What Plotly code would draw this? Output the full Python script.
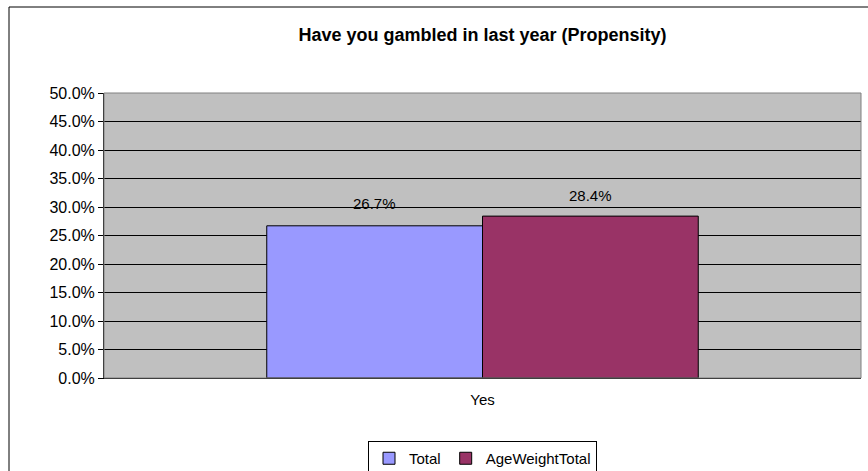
import plotly.graph_objects as go

categories = ["Yes"]
total_vals = [0.267]
ageweight_vals = [0.284]
series_names = ["Total", "AgeWeightTotal"]
title_text = "Have you gambled in last year (Propensity)"
ytick_vals = [i * 0.05 for i in range(11)]

FONT = "Liberation Sans, Arial, sans-serif"
PLOT_L, PLOT_R, PLOT_T, PLOT_B = 104, 861, 93, 378
PW = PLOT_R - PLOT_L
PH = PLOT_B - PLOT_T

fig = go.Figure()
fig.add_trace(go.Bar(
    x=categories, y=total_vals, name=series_names[0],
    marker=dict(color="#9999FF", line=dict(color="black", width=1)),
))
fig.add_trace(go.Bar(
    x=categories, y=ageweight_vals, name=series_names[1],
    marker=dict(color="#993366", line=dict(color="black", width=1)),
))

annotations = []
bar_half = 108
for vals, shift, ys in ((total_vals, -bar_half, 22), (ageweight_vals, bar_half, 21)):
    for c, v in zip(categories, vals):
        annotations.append(dict(x=c, y=v, xref="x", yref="y", text=f"{v*100:.1f}%",
                                showarrow=False, xshift=shift, yshift=ys,
                                font=dict(size=15, family=FONT, color="black")))

fig.update_layout(
    width=868, height=471,
    margin=dict(l=PLOT_L, r=868 - PLOT_R, t=PLOT_T, b=471 - PLOT_B, autoexpand=False),
    paper_bgcolor="white", plot_bgcolor="#C0C0C0",
    font=dict(family=FONT, size=15, color="black"),
    barmode="group", bargap=0.43, bargroupgap=0,
    title=dict(text=f"<b>{title_text}</b>", x=0.5, xref="paper", xanchor="center",
               y=1 - 35 / 471, yanchor="middle", yref="container",
               font=dict(size=18, family=FONT, color="black")),
    showlegend=True,
    legend=dict(orientation="h", x=0.5, xanchor="center", xref="paper",
                y=(471 - 441) / 471, yanchor="top", yref="container",
                bordercolor="black", borderwidth=1, bgcolor="white",
                font=dict(size=15, family=FONT), traceorder="normal",
                itemwidth=30, tracegroupgap=0),
    yaxis=dict(range=[0, 0.5], tickvals=ytick_vals, tickformat=".1%",
               showgrid=True, gridcolor="black", gridwidth=1,
               showline=True, linecolor="black", linewidth=1,
               ticks="outside", ticklen=5, tickcolor="black",
               zeroline=False, tickfont=dict(size=16), automargin=False),
    xaxis=dict(showline=True, linecolor="black", linewidth=1, ticks="",
               tickfont=dict(size=15), ticklabelstandoff=8, automargin=False),
    annotations=annotations,
    shapes=[
        dict(type="rect", xref="paper", yref="paper", x0=0, x1=1, y0=0, y1=1,
             line=dict(color="#808080", width=1), layer="above"),
        dict(type="rect", xref="paper", yref="paper",
             x0=(9 - PLOT_L) / PW, x1=1.05, y0=-0.4, y1=(PLOT_B - 7) / PH,
             line=dict(color="black", width=1), layer="below"),
    ],
)

fig.write_html("out.html", config={"displayModeBar": False},
               post_script="document.body.style.margin='0';")
